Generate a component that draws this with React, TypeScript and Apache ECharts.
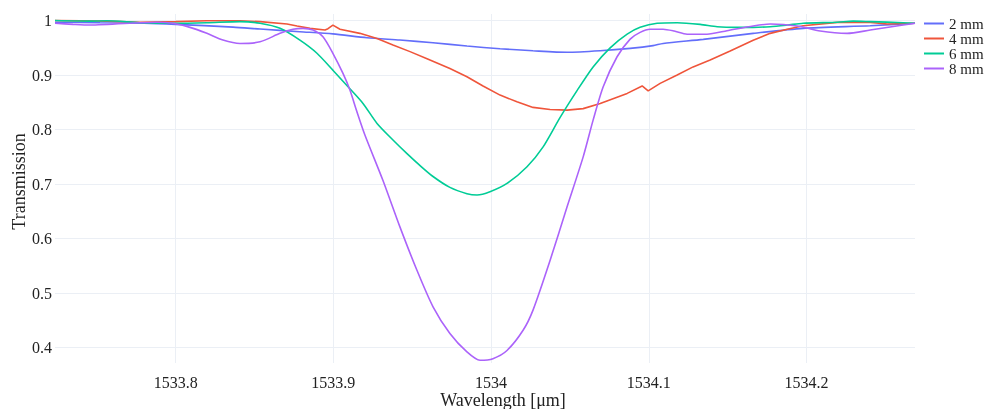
import React, { useEffect, useRef } from "react";
import * as echarts from "echarts";

const seriesNames = ["2 mm", "4 mm", "6 mm", "8 mm"];
const seriesColors = ["#636efa", "#EF553B", "#00cc96", "#ab63fa"];

const wl2 = [1533.7235, 1533.752, 1533.78, 1533.8, 1533.8364, 1533.8535, 1533.8788, 1533.8997, 1533.9213, 1533.9422, 1533.9632, 1533.9847, 1534.0057, 1534.0266, 1534.0482, 1534.0692, 1534.0882, 1534.1027, 1534.1091, 1534.1345, 1534.1662, 1534.1979, 1534.2404, 1534.2688];
const tr2 = [0.997, 0.996, 0.995, 0.993, 0.988, 0.9844, 0.9795, 0.9755, 0.9685, 0.9642, 0.9593, 0.9532, 0.9483, 0.9446, 0.9418, 0.9446, 0.949, 0.954, 0.958, 0.9655, 0.9765, 0.9857, 0.9905, 0.995];

const wl4 = [1533.7235, 1533.7564, 1533.7774, 1533.8, 1533.8198, 1533.8408, 1533.8535, 1533.8706, 1533.877, 1533.8852, 1533.8947, 1533.8966, 1533.8997, 1533.9042, 1533.9168, 1533.9277, 1533.9378, 1533.9486, 1533.9594, 1533.9739, 1533.9847, 1533.9949, 1534.0057, 1534.0164, 1534.0266, 1534.0374, 1534.0482, 1534.0584, 1534.0692, 1534.0863, 1534.0958, 1534.0996, 1534.1072, 1534.118, 1534.1281, 1534.1389, 1534.1516, 1534.1662, 1534.177, 1534.1878, 1534.1979, 1534.2195, 1534.2404, 1534.2512, 1534.2688];
const tr4 = [1.0, 0.999, 0.997, 0.998, 0.9995, 0.9995, 0.998, 0.9936, 0.99, 0.9857, 0.9826, 0.985, 0.9917, 0.984, 0.9765, 0.967, 0.955, 0.943, 0.93, 0.912, 0.897, 0.88, 0.8633, 0.851, 0.8407, 0.837, 0.8358, 0.8385, 0.848, 0.8664, 0.88, 0.871, 0.8848, 0.9, 0.915, 0.9275, 0.944, 0.964, 0.9765, 0.984, 0.9905, 0.9967, 0.9967, 0.9936, 0.995];

const wl6 = [1533.7235, 1533.7457, 1533.7564, 1533.7774, 1533.7983, 1533.8198, 1533.8408, 1533.8535, 1533.8662, 1533.8788, 1533.8896, 1533.8997, 1533.9093, 1533.9188, 1533.9277, 1533.9378, 1533.9467, 1533.955, 1533.9632, 1533.9739, 1533.9847, 1533.9911, 1533.9993, 1534.0101, 1534.0228, 1534.033, 1534.0437, 1534.0546, 1534.0647, 1534.0755, 1534.0863, 1534.0945, 1534.1053, 1534.118, 1534.1326, 1534.1434, 1534.156, 1534.1662, 1534.177, 1534.1878, 1534.1979, 1534.2195, 1534.2296, 1534.2404, 1534.2613, 1534.2688];
const tr6 = [1.0, 0.999, 0.9995, 0.996, 0.995, 0.996, 0.998, 0.995, 0.9857, 0.964, 0.94, 0.909, 0.8786, 0.848, 0.8114, 0.781, 0.756, 0.734, 0.714, 0.694, 0.6825, 0.68, 0.686, 0.7013, 0.732, 0.7684, 0.822, 0.872, 0.915, 0.95, 0.975, 0.9875, 0.995, 0.996, 0.993, 0.9887, 0.9875, 0.9875, 0.9887, 0.9917, 0.995, 0.997, 0.999, 0.998, 0.996, 0.995];

const wl8 = [1533.7235, 1533.7349, 1533.7457, 1533.7774, 1533.7881, 1533.7983, 1533.8091, 1533.8198, 1533.83, 1533.8408, 1533.8535, 1533.8662, 1533.8744, 1533.8808, 1533.8871, 1533.8934, 1533.8997, 1533.9061, 1533.9105, 1533.9149, 1533.92, 1533.9314, 1533.9422, 1533.953, 1533.9632, 1533.9739, 1533.9847, 1533.993, 1534.0012, 1534.0101, 1534.0203, 1534.0266, 1534.0374, 1534.0482, 1534.0584, 1534.0647, 1534.0711, 1534.0799, 1534.0882, 1534.0945, 1534.1008, 1534.1091, 1534.1161, 1534.1243, 1534.1369, 1534.1496, 1534.1662, 1534.177, 1534.1941, 1534.2087, 1534.2258, 1534.2404, 1534.2613, 1534.2688];
const tr8 = [0.995, 0.993, 0.9917, 0.996, 0.997, 0.995, 0.9875, 0.9765, 0.9642, 0.958, 0.961, 0.9765, 0.984, 0.9857, 0.9826, 0.9703, 0.94, 0.903, 0.8725, 0.833, 0.79, 0.707, 0.6216, 0.542, 0.475, 0.426, 0.3923, 0.377, 0.38, 0.395, 0.432, 0.469, 0.56, 0.6584, 0.75, 0.8174, 0.8786, 0.9336, 0.966, 0.9783, 0.984, 0.984, 0.9807, 0.975, 0.975, 0.9813, 0.99, 0.9936, 0.99, 0.9807, 0.9765, 0.9826, 0.9917, 0.995];

const xTitle = "Wavelength [\u03bcm]";
const yTitle = "Transmission";

const FONT = "'Liberation Serif', 'Times New Roman', serif";
const TEXT = "#222";

export default function App() {
  const ref = useRef<HTMLDivElement>(null);
  useEffect(() => {
    if (!ref.current) return;
    const chart = echarts.init(ref.current, undefined, { renderer: "svg" });
    const wls = [wl2, wl4, wl6, wl8];
    const trs = [tr2, tr4, tr6, tr8];
    const fmt = (v: number) => {
      const r = Math.round(v * 10) / 10;
      if (Math.abs(r - v) > 1e-6) return "";
      return String(parseFloat(r.toFixed(1)));
    };
    chart.setOption({
      animation: false,
      color: seriesColors,
      grid: { left: 55, right: 73, top: 14, bottom: 46, containLabel: false },
      legend: {
        orient: "vertical",
        left: 919,
        top: 11,
        icon: "rect",
        itemWidth: 20,
        itemHeight: 2,
        itemGap: 0,
        data: seriesNames,
        textStyle: { fontFamily: FONT, fontSize: 15, color: TEXT },
      },
      xAxis: {
        type: "value",
        min: 1533.7235,
        max: 1534.2688,
        axisLine: { show: false },
        axisTick: { show: false },
        axisLabel: {
          formatter: fmt,
          fontFamily: FONT,
          fontSize: 16,
          color: TEXT,
          margin: 11,
          showMinLabel: false,
          showMaxLabel: false,
        },
        splitLine: { show: true, showMinLine: false, showMaxLine: false, lineStyle: { color: "#ebeff5", width: 1 } },
      },
      yAxis: {
        type: "value",
        min: 0.372,
        max: 1.012,
        axisLine: { show: false },
        axisTick: { show: false },
        axisLabel: {
          formatter: fmt,
          fontFamily: FONT,
          fontSize: 16,
          color: TEXT,
          margin: 3,
          showMinLabel: false,
          showMaxLabel: false,
        },
        splitLine: { show: true, showMinLine: false, showMaxLine: false, lineStyle: { color: "#ebeff5", width: 1 } },
      },
      graphic: [
        {
          type: "text",
          x: 503,
          y: 400,
          style: { text: xTitle, font: `18px ${FONT}`, fill: TEXT, align: "center", verticalAlign: "middle" },
        },
        {
          type: "text",
          x: 18.5,
          y: 181.5,
          rotation: Math.PI / 2,
          style: { text: yTitle, font: `18px ${FONT}`, fill: TEXT, align: "center", verticalAlign: "middle" },
        },
      ],
      series: seriesNames.map((name, i) => ({
        name,
        type: "line",
        symbol: "none",
        smooth: i === 1 ? false : 0.25,
        lineStyle: { width: 1.6, color: seriesColors[i] },
        data: wls[i].map((w, j) => [w, trs[i][j]]),
      })),
    });
    return () => chart.dispose();
  }, []);
  return <div ref={ref} style={{ position: "fixed", left: 0, top: 0, width: 988, height: 409 }} />;
}
